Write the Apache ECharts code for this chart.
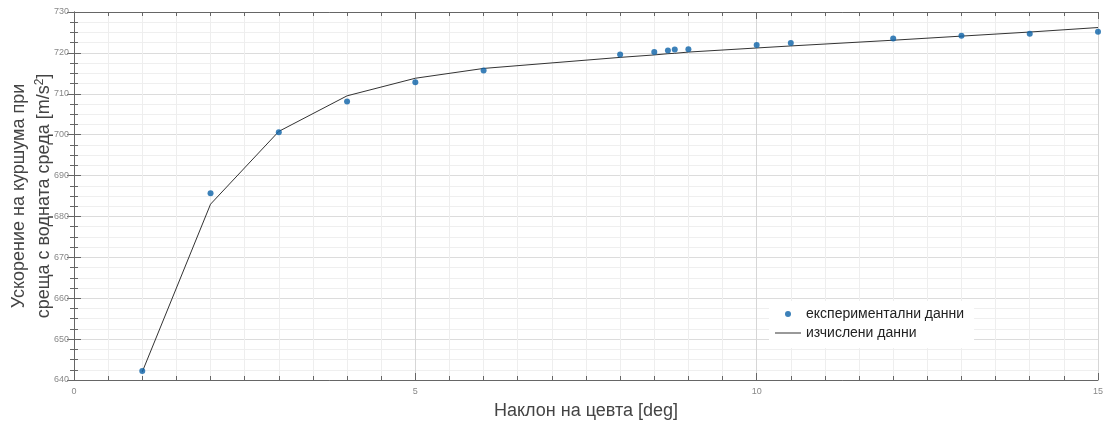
<!DOCTYPE html>
<html>
<head>
<meta charset="utf-8">
<script src="https://cdn.jsdelivr.net/npm/echarts@6/dist/echarts.min.js"></script>
<style>
    html, body {margin: 0; padding: 0; background: #fff;}
    #main {width: 1109px; height: 421px;}
</style>
</head>
<body>
<div id="main"></div>
<script>
// експериментални данни
var expX = [1, 2, 3, 4, 5, 6, 8, 8.5, 8.7, 8.8, 9, 10, 10.5, 12, 13, 14, 15];
var expY = [642.2, 685.7, 700.6, 708.1, 712.8, 715.7, 719.6, 720.2, 720.6, 720.8, 720.9, 721.9, 722.4, 723.5, 724.2, 724.7, 725.2];
// изчислени данни
var calcX = [1, 2, 3, 4, 5, 6, 8, 8.5, 8.7, 8.8, 9, 10, 10.5, 12, 13, 14, 15];
var calcY = [642.0, 683.0, 700.8, 709.5, 713.8, 716.2, 718.9, 719.5, 719.8, 719.9, 720.2, 721.2, 721.7, 723.1, 724.1, 725.1, 726.2];

var axisColor = '#666';

var pairs = function (xs, ys) {
    var out = [];
    for (var i = 0; i < xs.length; i++) {
        out.push([xs[i], ys[i]]);
    }
    return out;
};

var chart = echarts.init(document.getElementById('main'));

var baseX = {
    type: 'value',
    min: 0,
    max: 15,
    interval: 5,
    axisLine: {show: true, lineStyle: {color: axisColor, width: 1}},
    axisTick: {show: true, inside: true, length: 7, lineStyle: {color: axisColor}},
    minorTick: {show: true, splitNumber: 10, length: 4, lineStyle: {color: axisColor}}
};
var baseY = {
    type: 'value',
    min: 640,
    max: 730,
    interval: 10,
    axisLine: {show: true, lineStyle: {color: axisColor, width: 1}},
    axisTick: {show: true, inside: true, length: 7, lineStyle: {color: axisColor}},
    minorTick: {show: true, splitNumber: 4, length: 4, lineStyle: {color: axisColor}}
};

var option = {
    animation: false,
    backgroundColor: '#fff',
    textStyle: {fontFamily: 'Liberation Sans, Arial, sans-serif'},
    grid: {left: 74, right: 11, top: 12, bottom: 41, containLabel: false, outerBoundsMode: 'none'},
    legend: {
        orient: 'vertical',
        left: 769,
        top: 301,
        backgroundColor: '#fff',
        padding: [6, 10, 8, 6],
        itemWidth: 26,
        itemHeight: 6,
        itemGap: 5,
        textStyle: {color: '#222', fontSize: 14},
        data: [
            {name: 'експериментални данни', icon: 'circle'},
            {name: 'изчислени данни', icon: 'path://M0,0 L26,0 L26,1 L0,1 Z'}
        ]
    },
    xAxis: [
        echarts.util.merge({
            position: 'bottom',
            name: 'Наклон на цевта [deg]',
            nameLocation: 'middle',
            nameGap: 22,
            nameMoveOverlap: false,
            nameTextStyle: {color: '#444', fontSize: 18},
            axisLabel: {color: '#888', fontSize: 9, margin: 7},
            splitLine: {show: true, lineStyle: {color: '#d6d6d6'}},
            minorSplitLine: {show: true, lineStyle: {color: '#eeeeee'}}
        }, baseX, true),
        echarts.util.merge({
            position: 'top',
            axisLabel: {show: false},
            splitLine: {show: false}
        }, baseX, true)
    ],
    yAxis: [
        echarts.util.merge({
            position: 'left',
            name: 'Ускорение на куршума при\nсреща с водната среда [m/s{sup|2}]',
            nameLocation: 'middle',
            nameRotate: 90,
            nameGap: 17,
            nameMoveOverlap: false,
            nameTextStyle: {
                color: '#444',
                fontSize: 18,
                lineHeight: 25,
                rich: {
                    sup: {fontSize: 12, color: '#444', padding: [0, 0, 9, 0]}
                }
            },
            axisLabel: {color: '#888', fontSize: 9, margin: 5},
            splitLine: {show: true, lineStyle: {color: '#dcdcdc'}},
            minorSplitLine: {show: true, lineStyle: {color: '#efefef'}}
        }, baseY, true),
        echarts.util.merge({
            position: 'right',
            axisLabel: {show: false},
            splitLine: {show: false}
        }, baseY, true)
    ],
    series: [
        {
            name: 'изчислени данни',
            type: 'line',
            data: pairs(calcX, calcY),
            symbol: 'none',
            lineStyle: {color: '#333', width: 1},
            itemStyle: {color: '#333'},
            z: 2
        },
        {
            name: 'експериментални данни',
            type: 'scatter',
            data: pairs(expX, expY),
            symbol: 'circle',
            symbolSize: 6,
            itemStyle: {color: '#0b62a8'},
            z: 3
        }
    ]
};

chart.setOption(option);
</script>
</body>
</html>
